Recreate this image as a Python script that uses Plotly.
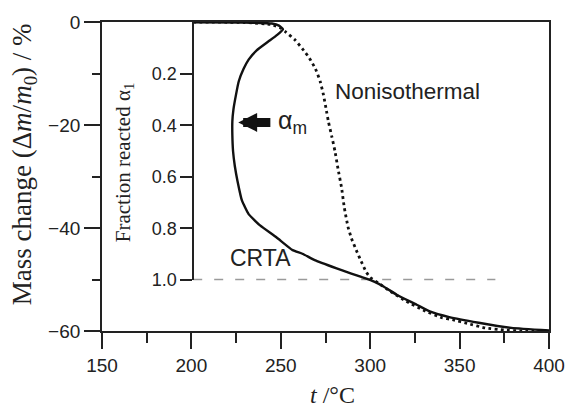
import plotly.graph_objects as go

# ---- data ----
crta_t = [201, 230, 245, 249, 251.2, 248, 243, 236.5, 232, 229.2, 226.5, 224.9, 223.5, 222.9, 222.9,
          223.3, 224.3, 225.8, 228.3, 232, 238.4, 247.5, 256.6, 262.1, 269.4, 284, 295, 302.2,
          307.7, 315, 326, 333.3, 344.2, 360.7, 379, 400]
crta_m = [-0.05, -0.1, -0.3, -0.7, -1.4, -2.5, -3.8, -5.5, -7.3, -9.1, -11.5, -14.2, -17, -19.3, -22,
          -25.1, -28, -30.9, -34.7, -37.3, -39.5, -41.8, -44.3, -45.0, -46.3, -48.2, -49.5, -50.4,
          -51.4, -53, -54.9, -56.2, -57.3, -58.4, -59.4, -59.9]

noniso_t = [201, 230, 245, 250, 253, 258, 262.1, 266, 269.4, 272, 273.9, 275.3, 276.6, 278.5, 280.3,
            282, 284, 285.5, 287.6, 289.5, 292.2, 295, 297.7, 300, 305, 310, 320, 330, 340, 346,
            355, 364.3, 375, 385, 400]
noniso_m = [0, -0.1, -0.5, -1.2, -2, -3.5, -5.2, -7, -9.1, -11.5, -14.2, -16.8, -19.3, -22.2, -25.1,
            -28.5, -32.2, -36, -39.8, -42, -44.3, -46.5, -48.5, -49.6, -50.8, -52, -54.2, -56, -57.4,
            -57.8, -58.6, -59.4, -59.8, -60, -60]

full_t = [201, 370]          # dashed reference line (alpha = 1.0)
full_m = [-50, -50]

x_ticks = [150, 200, 250, 300, 350, 400]
y_ticks = [0, -20, -40, -60]
alpha_ticks = [0.2, 0.4, 0.6, 0.8, 1.0]
alpha_labels = ["0.2", "0.4", "0.6", "0.8", "1.0"]

# ---- figure ----
W, H = 577, 407
L, R, T, B = 102, 19, 19, 76
INK = "#222222"
SANS = "Liberation Sans, Arial, sans-serif"
SERIF = "Liberation Serif, Times New Roman, serif"

fig = go.Figure()
fig.add_trace(go.Scatter(x=full_t, y=full_m, mode="lines",
                         line=dict(color="#9a9a9a", width=1.6, dash="9px,12px"),
                         showlegend=False, hoverinfo="skip"))
fig.add_trace(go.Scatter(x=noniso_t, y=noniso_m, mode="lines",
                         line=dict(color="#111111", width=2.8, dash="2.8px,3.4px", shape="spline",
                                   smoothing=0.4),
                         showlegend=False))
fig.add_trace(go.Scatter(x=crta_t, y=crta_m, mode="lines",
                         line=dict(color="#111111", width=2.4, shape="spline", smoothing=0.4),
                         showlegend=False))
# invisible trace that carries the inner (fraction reacted) axis
fig.add_trace(go.Scatter(x=[None], y=[None], yaxis="y2", mode="lines", showlegend=False))

pw = W - L - R
ph = H - T - B
inner_pos = (195 - L) / pw
inner_bottom = (H - B - 279.5) / ph

fig.update_layout(
    width=W, height=H,
    margin=dict(l=L, r=R, t=T, b=B),
    paper_bgcolor="white", plot_bgcolor="rgba(0,0,0,0)",
    font=dict(family=SANS, size=18, color=INK),
    xaxis=dict(range=[150, 400], tickvals=x_ticks, ticks="outside", ticklen=16, tickwidth=1.8,
               tickcolor=INK, showline=True, linecolor=INK, linewidth=1.8, mirror=True,
               showgrid=False, zeroline=False, tickfont=dict(family=SANS, size=19, color=INK),
               minor=dict(dtick=25, ticks="outside", ticklen=10, tickwidth=1.8, tickcolor=INK,
                          showgrid=False)),
    yaxis=dict(range=[-60, 0], tickvals=y_ticks, ticks="outside", ticklen=16, tickwidth=1.8,
               tickcolor=INK, showline=True, linecolor=INK, linewidth=1.8, mirror=True,
               showgrid=False, zeroline=False, tickfont=dict(family=SANS, size=19, color=INK),
               minor=dict(dtick=10, ticks="outside", ticklen=8, tickwidth=1.8, tickcolor=INK,
                          showgrid=False)),
    yaxis2=dict(range=[1.0, 0], domain=[inner_bottom, 1], anchor="free", position=inner_pos,
                tickvals=alpha_ticks, ticktext=alpha_labels, ticks="outside", ticklen=12,
                tickwidth=1.8, tickcolor=INK, showline=True, linecolor=INK, linewidth=1.8,
                showgrid=False, zeroline=False, tickfont=dict(family=SANS, size=18, color=INK)),
)

def px_x(p):
    return (p - L) / pw

def px_y(p):
    return (H - B - p) / ph

ann = [
    dict(text="Mass change (Δ<i>m</i>/<i>m</i><sub>0</sub>) / %", x=px_x(22), y=px_y(163),
         xref="paper", yref="paper", textangle=-90, showarrow=False,
         font=dict(family=SERIF, size=27, color=INK), xanchor="center", yanchor="middle"),
    dict(text="Fraction reacted α<sub>1</sub>", x=px_x(124), y=px_y(161),
         xref="paper", yref="paper", textangle=-90, showarrow=False,
         font=dict(family=SERIF, size=21, color=INK), xanchor="center", yanchor="middle"),
    dict(text="<i>t</i> /°C", x=px_x(337), y=px_y(396), xref="paper", yref="paper",
         showarrow=False, font=dict(family=SERIF, size=24, color=INK),
         xanchor="center", yanchor="middle"),
    dict(text="Nonisothermal", x=320.8, y=-13.5, xref="x", yref="y", showarrow=False,
         font=dict(family=SANS, size=22.5, color=INK), xanchor="center", yanchor="middle"),
    dict(text="CRTA", x=238.5, y=-45.9, xref="x", yref="y", showarrow=False,
         font=dict(family=SANS, size=23, color=INK), xanchor="center", yanchor="middle"),
    dict(text="", x=226.2, y=-19.5, ax=245, ay=-19.5, xref="x", yref="y", axref="x", ayref="y",
         showarrow=True, arrowhead=2, arrowsize=0.42, arrowwidth=9, arrowcolor="#111111",
         standoff=0),
    dict(text="α<sub>m</sub>", x=247.5, y=-19.5, xref="x", yref="y", showarrow=False,
         font=dict(family=SANS, size=25, color=INK), xanchor="left", yanchor="middle"),
]
fig.update_layout(annotations=ann)

fig.write_html("out.html")
